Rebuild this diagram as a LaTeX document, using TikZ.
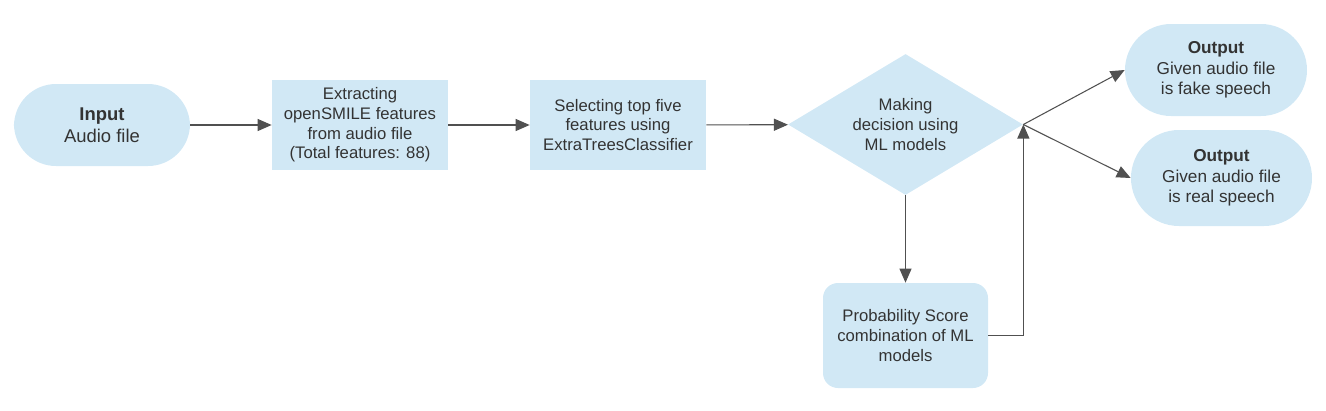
\documentclass[tikz,border=0pt]{standalone}
\usepackage{fontspec}
\setmainfont{Liberation Sans}
\usetikzlibrary{shapes.geometric,arrows.meta}
\definecolor{boxblue}{HTML}{D1E8F5}
\definecolor{txtgray}{HTML}{333333}
\definecolor{linegray}{HTML}{505050}

\begin{document}
\begin{tikzpicture}[x=0.2mm,y=-0.2mm,
    every node/.style={text=txtgray, align=center, font=\fontsize{9.5}{11.2}\selectfont},
    terminal/.style={fill=boxblue, rounded corners=8.4mm, minimum width=35.2mm, minimum height=16.4mm},
    process/.style={fill=boxblue, minimum width=35.2mm, minimum height=18mm, inner sep=0pt},
    decision/.style={diamond, aspect=1.67, fill=boxblue, minimum width=47mm, minimum height=28.2mm, inner sep=0pt},
    flow/.style={draw=linegray, semithick, -{Triangle[length=2.8mm,width=2.4mm]}}]
      \useasboundingbox (0,0) rectangle (1326,410);
      \node[terminal, font=\fontsize{10.5}{12.5}\selectfont] (input) at (102,125) {\textbf{Input}\\Audio file};
      \node[process] (extract) at (360,125) {Extracting\\openSMILE features\\from audio file\\(Total features: 88)};
      \node[process] (select) at (618,125) {Selecting top five\\features using\\ExtraTreesClassifier};
      \node[decision] (decide) at (905.5,124.5) {Making\\decision using\\ML models};
      \node[terminal, minimum width=36.4mm, minimum height=18.4mm, rounded corners=9.2mm, font=\fontsize{9.8}{11.8}\selectfont] (fake) at (1216,70) {\textbf{Output}\\Given audio file\\is fake speech};
      \node[terminal, minimum width=36.2mm, minimum height=19.2mm, rounded corners=9.6mm, font=\fontsize{9.8}{11.8}\selectfont] (real) at (1221.5,178) {\textbf{Output}\\Given audio file\\is real speech};
      \node[process, rounded corners=3mm, minimum width=33mm, minimum height=21mm] (prob) at (905.5,335.5) {Probability Score\\combination of ML\\models};
      \coordinate (bend) at (decide.east |- prob.east);
      \draw[flow] (input) -- (extract);
      \draw[flow] (extract) -- (select);
      \draw[flow] (select) -- (decide);
      \draw[flow] (decide.east) -- (fake.west);
      \draw[flow] (decide.east) -- (real.west);
      \draw[flow] (decide) -- (prob);
      \draw[flow] (prob.east) -- (bend) -- (decide.east);
    \end{tikzpicture}
\end{document}
